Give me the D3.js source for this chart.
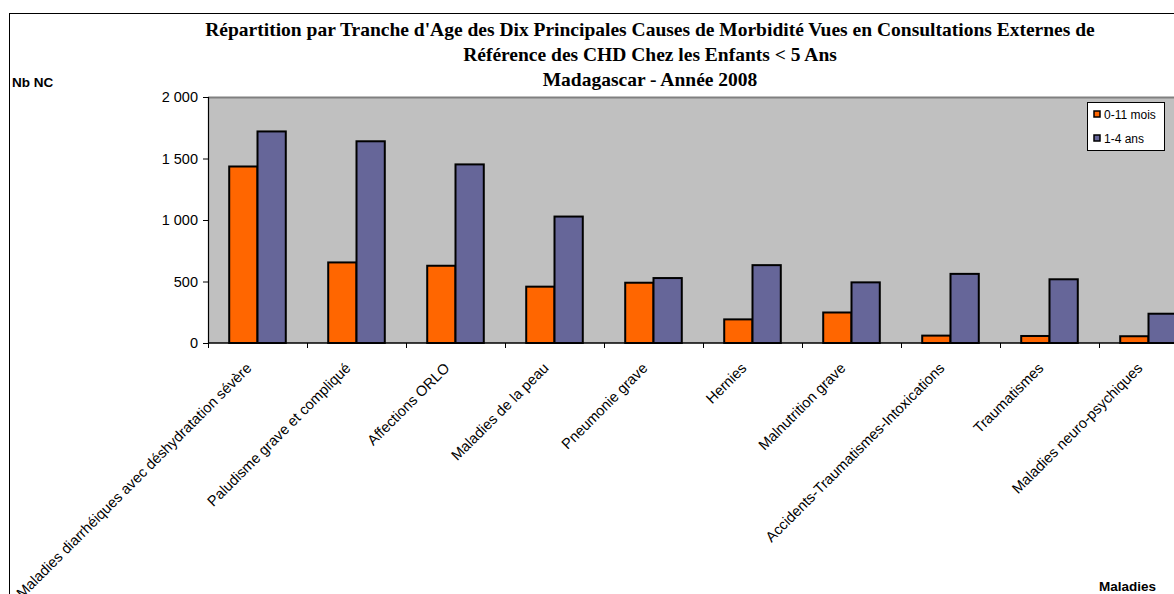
<!DOCTYPE html>
<html>
<head>
<meta charset="utf-8">
<script src="https://cdn.jsdelivr.net/npm/d3@7"></script>
<style>
  html, body { margin: 0; padding: 0; background: #ffffff; }
  svg { display: block; }
</style>
</head>
<body>
<svg id="chart" width="1174" height="594"></svg>
<script>
const categories = [
  "Maladies diarrhéiques avec déshydratation sévère",
  "Paludisme grave et compliqué",
  "Affections ORLO",
  "Maladies de la peau",
  "Pneumonie grave",
  "Hernies",
  "Malnutrition grave",
  "Accidents-Traumatismes-Intoxications",
  "Traumatismes",
  "Maladies neuro-psychiques"
];
const seriesNames = ["0-11 mois", "1-4 ans"];
const values0to11 = [1435, 655, 628, 458, 490, 192, 248, 60, 57, 55];
const values1to4 = [1720, 1640, 1452, 1028, 528, 633, 493, 562, 518, 238];
const yTicks = [0, 500, 1000, 1500, 2000];
const titleLines = [
  "Répartition par Tranche d'Age des Dix Principales Causes de Morbidité Vues en Consultations Externes de",
  "Référence des CHD Chez les Enfants < 5 Ans",
  "Madagascar - Année 2008"
];
const colors = ["#FF6600", "#666699"];

const svg = d3.select("#chart");
const sans = "'Liberation Sans', Arial, sans-serif";
const serif = "'Liberation Serif', 'Times New Roman', serif";

// outer chart border
svg.append("rect").attr("x", 9.5).attr("y", 13.5).attr("width", 1200).attr("height", 620)
  .attr("fill", "#fff").attr("stroke", "#000").attr("stroke-width", 1);

const plot = { left: 208, right: 1198, top: 97, bottom: 343 };

const x0 = d3.scaleBand().domain(categories).range([plot.left, plot.right]).paddingInner(0).paddingOuter(0);
const x1 = d3.scaleBand().domain(seriesNames).range([0, x0.bandwidth()]).paddingInner(0).paddingOuter(0.75);
const y = d3.scaleLinear().domain([0, 2000]).range([plot.bottom, plot.top]);

// plot background
svg.append("rect").attr("x", plot.left).attr("y", plot.top)
  .attr("width", plot.right - plot.left).attr("height", plot.bottom - plot.top)
  .attr("fill", "#C0C0C0");
svg.append("line").attr("x1", plot.left).attr("x2", plot.right)
  .attr("y1", plot.top + 0.5).attr("y2", plot.top + 0.5)
  .attr("stroke", "#808080").attr("stroke-width", 2);

// bars
const data = categories.map((c, i) => ({ cat: c, vals: [values0to11[i], values1to4[i]] }));
const groups = svg.append("g").selectAll("g").data(data).join("g")
  .attr("transform", d => `translate(${x0(d.cat)},0)`);
groups.selectAll("rect").data(d => d.vals.map((v, k) => ({ key: seriesNames[k], v, k })))
  .join("rect")
  .attr("x", d => x1(d.key))
  .attr("y", d => y(d.v))
  .attr("width", x1.bandwidth())
  .attr("height", d => y(0) - y(d.v))
  .attr("fill", d => colors[d.k])
  .attr("stroke", "#000").attr("stroke-width", 2);

// y axis
const yAxis = d3.axisLeft(y).tickValues(yTicks).tickSize(5).tickPadding(5)
  .tickFormat(d => d3.format(",")(d).replace(/,/g, " "));
const gy = svg.append("g").attr("transform", `translate(${plot.left},0)`).call(yAxis);
gy.select(".domain").attr("stroke", "#000").attr("stroke-width", 1.2);
gy.selectAll(".tick line").attr("stroke", "#000");
gy.selectAll(".tick text").attr("font-family", sans).attr("font-size", 14.5).attr("fill", "#000");

// x axis line and ticks at category boundaries
svg.append("line").attr("x1", plot.left).attr("x2", plot.right)
  .attr("y1", plot.bottom).attr("y2", plot.bottom).attr("stroke", "#000").attr("stroke-width", 1.5);
const boundaries = categories.map(c => x0(c)).concat([plot.right]);
svg.append("g").selectAll("line").data(boundaries).join("line")
  .attr("x1", d => d + 0.5).attr("x2", d => d + 0.5)
  .attr("y1", plot.bottom).attr("y2", plot.bottom + 5)
  .attr("stroke", "#000");

// category labels
svg.append("g").selectAll("text").data(categories).join("text")
  .attr("transform", d => `translate(${x0(d) + x0.bandwidth() / 2 - 5},369) rotate(-45)`)
  .attr("text-anchor", "end")
  .attr("font-family", sans).attr("font-size", 14.6).attr("fill", "#000")
  .text(d => d);

// title
svg.append("g").selectAll("text").data(titleLines).join("text")
  .attr("x", 650).attr("y", (d, i) => 36 + i * 25)
  .attr("text-anchor", "middle")
  .attr("font-family", serif).attr("font-weight", "bold").attr("font-size", 19.5).attr("fill", "#000")
  .text(d => d);

// axis titles
svg.append("text").attr("x", 12).attr("y", 87)
  .attr("font-family", sans).attr("font-weight", "bold").attr("font-size", 13.5).text("Nb NC");
svg.append("text").attr("x", 1099).attr("y", 591)
  .attr("font-family", sans).attr("font-weight", "bold").attr("font-size", 13.5).text("Maladies");

// legend
const lg = svg.append("g");
lg.append("rect").attr("x", 1087.5).attr("y", 102.5).attr("width", 77).attr("height", 48)
  .attr("fill", "#fff").attr("stroke", "#000");
seriesNames.forEach((s, i) => {
  lg.append("rect").attr("x", 1094).attr("y", 111 + i * 24).attr("width", 6).attr("height", 6)
    .attr("fill", colors[i]).attr("stroke", "#000").attr("stroke-width", 1.5);
  lg.append("text").attr("x", 1104).attr("y", 118.5 + i * 24)
    .attr("font-family", sans).attr("font-size", 12).text(s);
});
</script>
</body>
</html>
